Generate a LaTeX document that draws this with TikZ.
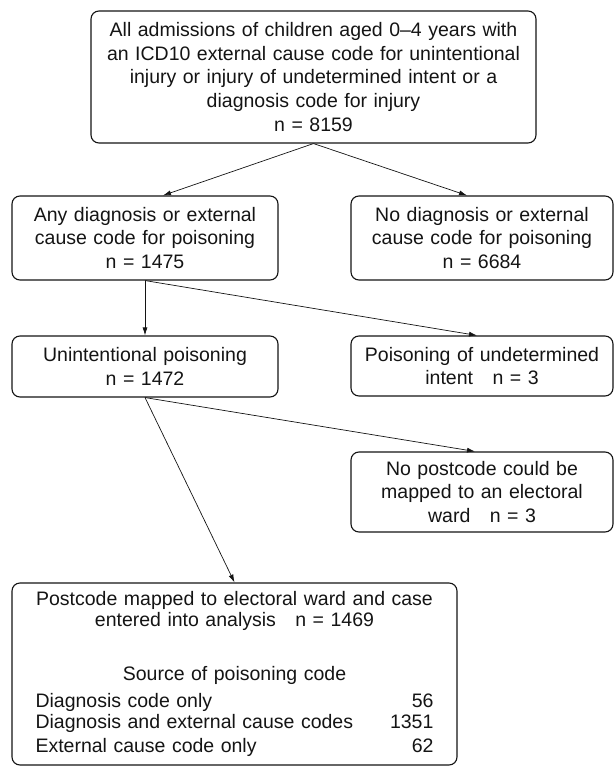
\documentclass[tikz,border=0pt]{standalone}
\usepackage{fontspec}
\setmainfont{Liberation Sans}
\usepackage{tikz}
\usetikzlibrary{arrows.meta,positioning}
\definecolor{flowInk}{RGB}{20,20,20}
\newcommand{\flowfont}{\fontsize{19.5}{23.8}\selectfont}
\tikzset{
  flowbox/.style={draw=flowInk, line width=1.1pt, rounded corners=8pt, align=center,
    inner xsep=6pt, inner ysep=0pt, font=\flowfont, text=flowInk},
  flowarrow/.style={-{Latex[length=8pt,width=5pt]}, line width=0.7pt, draw=flowInk}
}

\begin{document}
\begin{tikzpicture}[x=1pt,y=-1pt]
    \useasboundingbox (0,0) rectangle (615,767);

    % all admissions
    \node[flowbox, text width=433pt, minimum height=132pt] (admit) at (313.5,77)
      {All admissions of children aged 0–4 years with\\
       an ICD10 external cause code for unintentional\\
       injury or injury of undetermined intent or a\\
       diagnosis code for injury\\
       n = 8159};

    % poisoning code or not
    \node[flowbox, text width=254pt, minimum height=84pt] (anypois) at (145,238)
      {Any diagnosis or external\\ cause code for poisoning\\ n = 1475};
    \node[flowbox, text width=250pt, minimum height=84pt] (nopois) at (482,238)
      {No diagnosis or external\\ cause code for poisoning\\ n = 6684};

    % intent
    \node[flowbox, text width=254pt, minimum height=61pt] (unint) at (145,366.5)
      {Unintentional poisoning\\ n = 1472};
    \node[flowbox, text width=250pt, minimum height=60pt] (undet) at (482,366)
      {Poisoning of undetermined\\ intent\quad n = 3};

    % ward mapping
    \node[flowbox, text width=250pt, minimum height=80pt] (nopost) at (482,492)
      {No postcode could be\\ mapped to an electoral\\ ward\quad n = 3};
    \node[flowbox, text width=398pt, inner xsep=23.5pt, minimum height=182pt] (mapped) at (234.5,674)
      {\fontsize{19.5}{21}\selectfont
       Postcode mapped to electoral ward and case\\
       entered into analysis\quad n = 1469\\[33pt]
       Source of poisoning code\\[6pt]
       Diagnosis code only\hfill 56\\
       Diagnosis and external cause codes\hfill 1351\\
       External cause code only\hfill 62};

    % arrows
    \draw[flowarrow] (admit.south) -- ([xshift=18pt]anypois.north);
    \draw[flowarrow] (admit.south) -- ([xshift=-15pt]nopois.north);
    \draw[flowarrow] (anypois.south) -- (unint.north);
    \draw[flowarrow] (anypois.south) -- ([xshift=-5pt]undet.north);
    \draw[flowarrow] (unint.south) -- ([xshift=-7pt]nopost.north);
    \draw[flowarrow] (unint.south) -- (mapped.north);
\end{tikzpicture}
\end{document}
